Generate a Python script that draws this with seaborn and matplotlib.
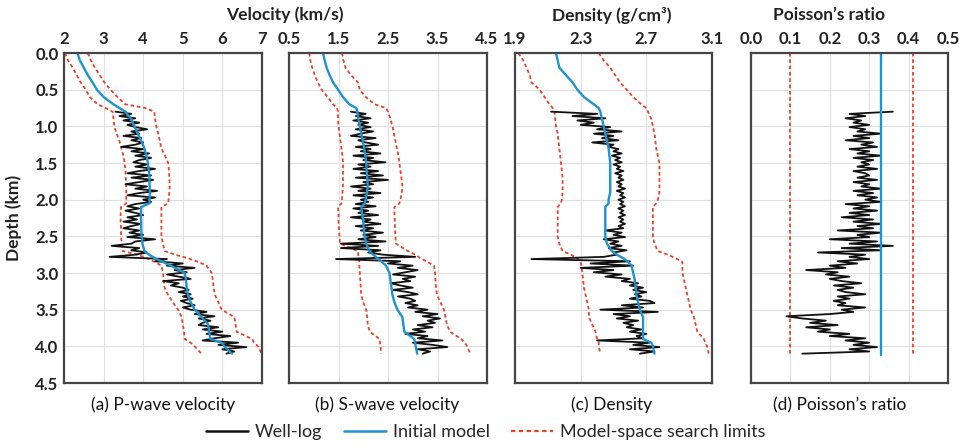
import numpy as np
import pandas as pd
import matplotlib
matplotlib.use("Agg")
import matplotlib.pyplot as plt
import seaborn as sns
from matplotlib.lines import Line2D

# ---------------- data ----------------
# well-log sampling depths (km)
log_depth = np.round(np.linspace(0.80, 4.10, 111), 2)

vp_log = [3.3, 3.7, 3.4, 3.8, 3.5, 3.9, 3.6,
          3.8, 4.1, 3.7, 3.9, 3.5, 3.95, 3.7, 4.0, 3.8,
          3.45, 4.0, 3.7, 4.15, 3.8, 4.2, 3.9, 3.75, 4.1,
          3.8, 4.3, 3.9, 3.6, 4.2, 3.7, 4.25, 3.9, 3.55,
          4.1, 3.8, 4.35, 3.9, 3.6, 4.3, 4.0, 4.2, 3.8,
          3.6, 3.9, 3.55, 3.8, 4.0, 3.6, 3.85, 3.5, 3.95,
          3.7, 3.5, 3.9, 3.65, 4.0, 3.6, 4.3, 3.8, 3.7,
          3.2, 3.9, 3.7, 4.1, 3.8, 3.15, 4.6, 4.3, 5.0,
          4.6, 5.3, 4.8, 5.1, 4.6, 4.9, 5.2, 4.5, 4.9,
          4.7, 5.0, 5.15, 4.9, 5.2, 5.0, 5.25, 4.95, 5.1,
          5.3, 5.0, 5.2, 5.6, 5.3, 5.8, 5.4, 5.7, 5.5,
          5.4, 5.9, 5.5, 6.0, 5.6, 6.2, 5.8, 5.5, 6.4,
          5.9, 6.6, 6.0, 6.3, 6.1]

vs_log = [1.75, 2.05, 1.85, 2.15, 1.8, 2.1, 1.9,
          2.15, 1.85, 2.2, 1.95, 1.75, 2.25, 1.9, 2.05, 2.3,
          1.85, 2.15, 1.95, 2.35, 1.8, 2.2, 2.0, 2.45, 1.9,
          2.15, 1.8, 2.3, 1.95, 2.4, 1.85, 2.5, 2.0, 2.2,
          1.75, 2.15, 1.9, 2.35, 1.8, 2.2, 1.95, 2.1, 1.85,
          2.25, 1.8, 2.1, 1.9, 2.3, 1.75, 2.15, 2.0, 2.35,
          1.85, 2.2, 1.95, 2.4, 2.0, 2.25, 1.9, 2.45, 1.55,
          2.3, 1.55, 2.35, 2.1, 2.4, 3.05, 1.45, 2.75, 2.5,
          3.0, 2.7, 3.1, 2.85, 2.6, 3.05, 2.8, 2.95, 2.55,
          2.75, 3.0, 2.6, 2.9, 3.1, 2.7, 2.95, 3.05, 2.85,
          3.1, 2.9, 3.3, 3.05, 3.5, 3.2, 3.55, 3.3, 3.45,
          3.1, 3.4, 3.0, 3.25, 2.85, 3.3, 3.1, 3.6, 3.0,
          3.4, 3.7, 3.1, 3.35, 3.2]

rho_log = [2.12, 2.4, 2.25, 2.45, 2.28, 2.38, 2.3,
           2.48, 2.4, 2.55, 2.38, 2.5, 2.43, 2.53, 2.37, 2.5,
           2.47, 2.53, 2.5, 2.55, 2.49, 2.54, 2.51, 2.55, 2.5,
           2.54, 2.52, 2.56, 2.51, 2.55, 2.53, 2.56, 2.52, 2.55,
           2.53, 2.57, 2.52, 2.56, 2.54, 2.57, 2.53, 2.56, 2.54,
           2.57, 2.53, 2.56, 2.54, 2.57, 2.53, 2.56, 2.54, 2.57,
           2.53, 2.56, 2.45, 2.55, 2.5, 2.57, 2.44, 2.53, 2.48,
           2.55, 2.47, 2.58, 2.5, 2.52, 2.44, 2.0, 2.6, 2.36,
           2.62, 2.3, 2.5, 2.38, 2.55, 2.45, 2.6, 2.55, 2.65,
           2.6, 2.68, 2.62, 2.7, 2.63, 2.67, 2.6, 2.72, 2.75,
           2.55, 2.68, 2.42, 2.77, 2.5, 2.6, 2.52, 2.65, 2.56,
           2.62, 2.58, 2.67, 2.6, 2.7, 2.64, 2.68, 2.4, 2.72,
           2.62, 2.78, 2.6, 2.75, 2.66]

pr_log = [0.36, 0.25, 0.29, 0.24, 0.28, 0.26, 0.3,
          0.25, 0.29, 0.27, 0.33, 0.26, 0.3, 0.24, 0.31, 0.28,
          0.32, 0.25, 0.3, 0.27, 0.33, 0.26, 0.31, 0.28, 0.3,
          0.27, 0.32, 0.26, 0.29, 0.3, 0.27, 0.32, 0.26, 0.3,
          0.28, 0.33, 0.26, 0.31, 0.27, 0.32, 0.29, 0.33, 0.24,
          0.3, 0.26, 0.32, 0.25, 0.3, 0.23, 0.31, 0.26, 0.33,
          0.27, 0.31, 0.22, 0.33, 0.27, 0.3, 0.2, 0.32, 0.25,
          0.36, 0.23, 0.33, 0.17, 0.29, 0.25, 0.3, 0.22, 0.27,
          0.2, 0.24, 0.14, 0.22, 0.19, 0.25, 0.2, 0.23, 0.28,
          0.21, 0.26, 0.22, 0.24, 0.29, 0.22, 0.25, 0.21, 0.24,
          0.22, 0.29, 0.23, 0.26, 0.2, 0.09, 0.13, 0.19, 0.15,
          0.22, 0.14, 0.2, 0.17, 0.25, 0.2, 0.29, 0.24, 0.3,
          0.26, 0.32, 0.25, 0.3, 0.13]

# initial model and search limits (km)
model_depth = [0.0, 0.1, 0.2, 0.3, 0.4, 0.5, 0.6, 0.7, 0.75, 0.8, 0.9, 1.0,
               1.1, 1.2, 1.3, 1.4, 1.5, 1.6, 1.7, 1.8, 1.9, 2.0, 2.05, 2.1,
               2.2, 2.3, 2.4, 2.5, 2.6, 2.7, 2.75, 2.8, 2.85, 2.9, 3.0, 3.1,
               3.2, 3.3, 3.4, 3.5, 3.6, 3.7, 3.8, 3.9, 3.95, 4.0, 4.1]

vp_init = [2.34, 2.4, 2.5, 2.6, 2.72, 2.83, 3.0, 3.25, 3.4, 3.55, 3.7, 3.78,
           3.86, 3.95, 4.03, 4.08, 4.12, 4.14, 4.16, 4.16, 4.17, 4.16, 4.16, 3.95,
           3.94, 3.95, 3.95, 3.96, 3.98, 4.03, 4.15, 4.3, 4.5, 4.7, 5.05, 5.08,
           5.1, 5.13, 5.2, 5.3, 5.47, 5.64, 5.66, 5.7, 5.98, 6.05, 6.24]
vp_lo = [2.02, 2.1, 2.22, 2.32, 2.42, 2.55, 2.65, 2.85, 3.05, 3.23, 3.25, 3.27,
         3.33, 3.4, 3.45, 3.5, 3.53, 3.55, 3.56, 3.57, 3.57, 3.57, 3.57, 3.44,
         3.43, 3.43, 3.44, 3.44, 3.46, 3.48, 3.86, 4.1, 4.3, 4.46, 4.5, 4.52,
         4.54, 4.63, 4.75, 4.88, 4.97, 5.0, 5.03, 5.05, 5.2, 5.3, 5.47]
vp_hi = [2.6, 2.68, 2.78, 2.9, 3.02, 3.17, 3.35, 3.55, 4.05, 4.28, 4.3, 4.33,
         4.38, 4.42, 4.46, 4.55, 4.63, 4.65, 4.66, 4.67, 4.66, 4.64, 4.63, 4.46,
         4.46, 4.46, 4.46, 4.46, 4.5, 4.54, 4.8, 5.14, 5.4, 5.6, 5.73, 5.76,
         5.78, 5.81, 5.9, 5.98, 6.3, 6.33, 6.36, 6.75, 6.8, 6.9, 6.99]

vs_init = [1.19, 1.22, 1.26, 1.32, 1.39, 1.49, 1.59, 1.72, 1.86, 1.88, 1.9, 1.93,
           1.96, 1.99, 2.02, 2.04, 2.06, 2.07, 2.08, 2.09, 2.08, 2.05, 2.03, 1.96,
           1.98, 2.0, 2.01, 2.03, 2.06, 2.12, 2.2, 2.29, 2.38, 2.46, 2.53, 2.55,
           2.57, 2.59, 2.63, 2.69, 2.79, 2.81, 2.83, 3.03, 3.05, 3.06, 3.09]
vs_lo = [0.91, 0.93, 0.97, 1.02, 1.08, 1.16, 1.28, 1.39, 1.47, 1.49, 1.49, 1.5,
         1.52, 1.54, 1.56, 1.58, 1.59, 1.59, 1.59, 1.59, 1.58, 1.57, 1.56, 1.49,
         1.5, 1.5, 1.51, 1.52, 1.53, 1.89, 1.9, 1.91, 1.92, 1.92, 1.93, 1.94,
         1.95, 1.96, 2.0, 2.06, 2.08, 2.09, 2.13, 2.33, 2.34, 2.35, 2.36]
vs_hi = [1.57, 1.6, 1.64, 1.75, 1.89, 1.93, 2.05, 2.23, 2.46, 2.5, 2.55, 2.59,
         2.62, 2.65, 2.68, 2.71, 2.73, 2.75, 2.77, 2.79, 2.78, 2.75, 2.73, 2.63,
         2.63, 2.64, 2.64, 2.65, 2.66, 2.9, 3.05, 3.16, 3.3, 3.43, 3.45, 3.46,
         3.47, 3.49, 3.56, 3.63, 3.66, 3.69, 3.75, 3.98, 4.05, 4.1, 4.16]

rho_init = [2.15, 2.16, 2.17, 2.21, 2.25, 2.28, 2.32, 2.38, 2.41, 2.42, 2.43, 2.44,
            2.45, 2.46, 2.47, 2.475, 2.48, 2.48, 2.48, 2.48, 2.48, 2.47, 2.47, 2.45,
            2.45, 2.45, 2.45, 2.45, 2.46, 2.49, 2.52, 2.56, 2.59, 2.61, 2.62, 2.63,
            2.635, 2.64, 2.65, 2.66, 2.68, 2.68, 2.68, 2.68, 2.73, 2.74, 2.75]
rho_lo = [1.92, 1.95, 1.97, 1.99, 2.0, 2.05, 2.08, 2.11, 2.13, 2.14, 2.145, 2.15,
          2.16, 2.165, 2.17, 2.175, 2.18, 2.185, 2.19, 2.19, 2.19, 2.185, 2.18, 2.16,
          2.16, 2.16, 2.16, 2.16, 2.17, 2.19, 2.24, 2.28, 2.3, 2.305, 2.31, 2.315,
          2.32, 2.33, 2.34, 2.35, 2.35, 2.37, 2.39, 2.4, 2.41, 2.41, 2.42]
rho_hi = [2.41, 2.44, 2.48, 2.51, 2.54, 2.58, 2.62, 2.67, 2.7, 2.71, 2.73, 2.74,
          2.75, 2.755, 2.76, 2.77, 2.78, 2.78, 2.78, 2.78, 2.78, 2.77, 2.76, 2.74,
          2.74, 2.74, 2.74, 2.74, 2.75, 2.77, 2.83, 2.88, 2.92, 2.92, 2.92, 2.93,
          2.94, 2.95, 2.96, 2.97, 2.99, 3.0, 3.01, 3.05, 3.06, 3.07, 3.08]

pr_depth = [0.0, 4.12]
pr_init = [0.33, 0.33]
pr_lo = [0.1, 0.1]
pr_hi = [0.41, 0.41]

# axis ticks and labels
xticks_list = [[2, 3, 4, 5, 6, 7],
               [0.5, 1.5, 2.5, 3.5, 4.5],
               [1.9, 2.3, 2.7, 3.1],
               [0.0, 0.1, 0.2, 0.3, 0.4, 0.5]]
xticklabels_list = [["2", "3", "4", "5", "6", "7"],
                    ["0.5", "1.5", "2.5", "3.5", "4.5"],
                    ["1.9", "2.3", "2.7", "3.1"],
                    ["0.0", "0.1", "0.2", "0.3", "0.4", "0.5"]]
depth_ticks = [0.0, 0.5, 1.0, 1.5, 2.0, 2.5, 3.0, 3.5, 4.0, 4.5]
depth_ticklabels = ["0.0", "0.5", "1.0", "1.5", "2.0", "2.5", "3.0", "3.5", "4.0", "4.5"]
panel_captions = ["(a) P-wave velocity", "(b) S-wave velocity", "(c) Density",
                  "(d) Poisson\u2019s ratio"]
legend_labels = ["Well-log", "Initial model", "Model-space search limits"]

# ---------------- style ----------------
sns.set_theme(style="white")
plt.rcParams["font.family"] = ["Lato", "DejaVu Sans"]

BLACK = "#111111"
BLUE = "#1E93CF"
RED = "#E5432C"
SPINE = "#454545"
GRID = "#E0E0E0"
TXT = "#222222"

W, H = 959, 447
fig = plt.figure(figsize=(W / 100, H / 100), dpi=100)

panels_px = [(64, 262), (289, 487), (515, 712), (751, 948)]
caption_x = [163, 387, 612, 840]
top_px, bot_px = 53, 383

series = [
    (vp_log, model_depth, vp_init, vp_lo, vp_hi),
    (vs_log, model_depth, vs_init, vs_lo, vs_hi),
    (rho_log, model_depth, rho_init, rho_lo, rho_hi),
    (pr_log, pr_depth, pr_init, pr_lo, pr_hi),
]

for k, ((x0, x1), (logv, mdep, init, lo, hi)) in enumerate(zip(panels_px, series)):
    ax = fig.add_axes([x0 / W, 1 - bot_px / H, (x1 - x0) / W, (bot_px - top_px) / H])
    ax.grid(True, color=GRID, linewidth=0.8)
    ax.set_axisbelow(True)

    sns.lineplot(x=lo, y=mdep, ax=ax, color=RED, linewidth=1.3, sort=False,
                 estimator=None, orient="y")
    sns.lineplot(x=hi, y=mdep, ax=ax, color=RED, linewidth=1.3, sort=False,
                 estimator=None, orient="y")
    for ln in ax.lines:
        ln.set_dashes((2.0, 1.5))
    sns.lineplot(x=logv, y=log_depth, ax=ax, color=BLACK, linewidth=1.3, sort=False,
                 estimator=None, orient="y")
    sns.lineplot(x=init, y=mdep, ax=ax, color=BLUE, linewidth=1.7, sort=False,
                 estimator=None, orient="y")

    xt = xticks_list[k]
    ax.set_xlim(xt[0], xt[-1])
    ax.set_ylim(4.5, 0.0)
    ax.set_xticks(xt)
    ax.set_xticklabels(xticklabels_list[k], fontsize=12, fontweight="bold", color=TXT)
    ax.xaxis.tick_top()
    ax.set_yticks(depth_ticks)
    if k == 0:
        ax.set_yticklabels(depth_ticklabels, fontsize=12, fontweight="bold", color=TXT)
    else:
        ax.set_yticklabels([])
    ax.tick_params(axis="both", length=0, pad=4)
    ax.set_xlabel("")
    ax.set_ylabel("")
    for sp in ax.spines.values():
        sp.set_color(SPINE)
        sp.set_linewidth(1.6)
    fig.text(caption_x[k] / W, 1 - 405 / H, panel_captions[k], ha="center",
             va="center", fontsize=12.5, color="#111111")

fig.text(14 / W, 1 - 218 / H, "Depth (km)", rotation=90, ha="center", va="center",
         fontsize=12.5, fontweight="bold", color=TXT)
fig.text(285 / W, 1 - 15 / H, "Velocity (km/s)", ha="center", va="center",
         fontsize=12.5, fontweight="bold", color=TXT)
fig.text(612 / W, 1 - 15 / H, "Density (g/cm\u00b3)", ha="center", va="center",
         fontsize=12.5, fontweight="bold", color=TXT)
fig.text(829 / W, 1 - 15 / H, "Poisson\u2019s ratio", ha="center", va="center",
         fontsize=12.5, fontweight="bold", color=TXT)

handles = [Line2D([], [], color=BLACK, linewidth=1.8),
           Line2D([], [], color=BLUE, linewidth=1.8),
           Line2D([], [], color=RED, linewidth=1.6, dashes=(2.0, 1.5))]
fig.legend(handles, legend_labels, loc="center", bbox_to_anchor=(486 / W, 1 - 432 / H),
           ncol=3, frameon=False, fontsize=13, handlelength=2.3, handletextpad=0.4,
           columnspacing=1.2)

fig.savefig("out.png", dpi=100)
